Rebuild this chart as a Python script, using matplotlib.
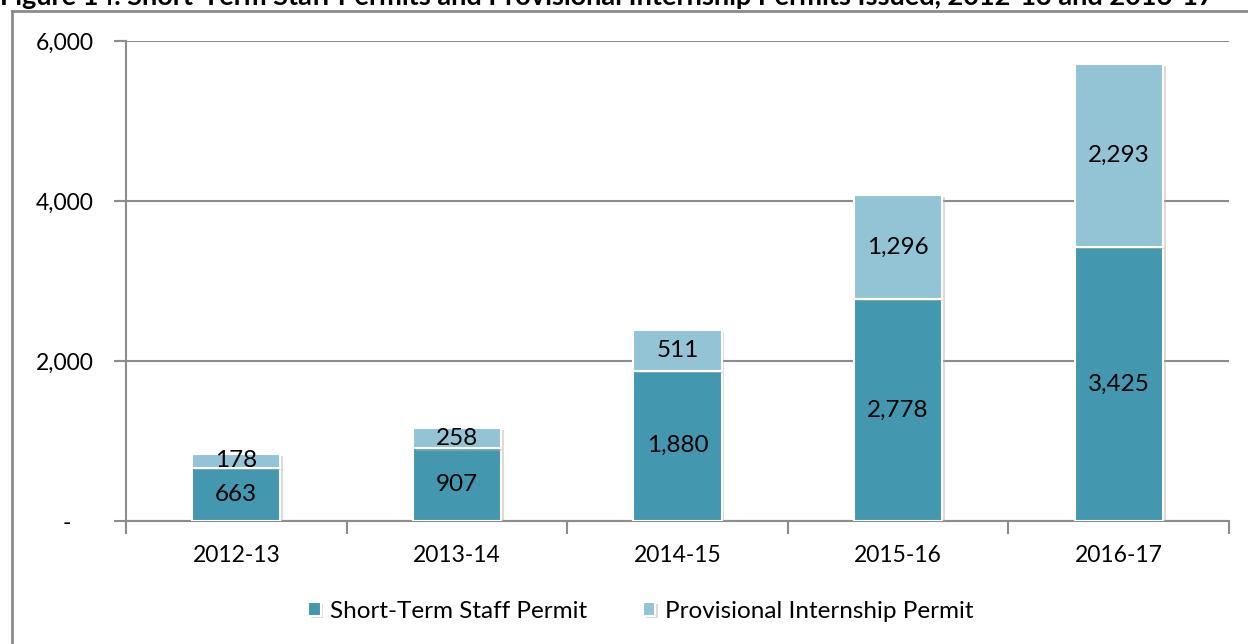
import matplotlib
matplotlib.use("Agg")
import matplotlib.pyplot as plt
import matplotlib.patheffects as pe
from matplotlib.lines import Line2D
import matplotlib.transforms as mtransforms
import numpy as np

plt.rcParams['font.family'] = ['Lato', 'DejaVu Sans']

title = "Figure 14. Short-Term Staff Permits and Provisional Internship Permits Issued, 2012-13 and 2016-17"
years = ["2012-13", "2013-14", "2014-15", "2015-16", "2016-17"]
short_term = [663, 907, 1880, 2778, 3425]
provisional = [178, 258, 511, 1296, 2293]
series_names = ["Short-Term Staff Permit", "Provisional Internship Permit"]
yticks = [0, 2000, 4000, 6000]

c_dark = "#4398b0"
c_light = "#93c4d6"
c_grid = "#8c8c8c"

W, H = 1248, 644
fig = plt.figure(figsize=(W / 100, H / 100), dpi=100)
ax = fig.add_axes([126 / W, 1 - 521 / H, (1229 - 126) / W, (521 - 41) / H])

x = np.arange(len(years))
shadow = [pe.SimplePatchShadow(offset=(2, -1.5), shadow_rgbFace="#b0b0b0", alpha=0.45), pe.Normal()]
b1 = ax.bar(x, short_term, width=0.4, color=c_dark, edgecolor="white", linewidth=1.5,
            label=series_names[0], zorder=3, path_effects=shadow)
b2 = ax.bar(x, provisional, width=0.4, bottom=short_term, color=c_light, edgecolor="white",
            linewidth=1.5, label=series_names[1], zorder=3, path_effects=shadow)

for i in range(len(years)):
    ax.text(x[i], short_term[i] / 2, f"{short_term[i]:,}", ha="center", va="center",
            fontsize=17.5, color="black", zorder=5)
    ax.text(x[i], short_term[i] + provisional[i] / 2, f"{provisional[i]:,}", ha="center",
            va="center", fontsize=17.5, color="black", zorder=5)

ax.set_xlim(-0.5, len(years) - 0.5)
ax.set_ylim(0, 6000)
ax.set_yticks(yticks)
ax.set_yticklabels(["-" if v == 0 else f"{v:,}" for v in yticks], fontsize=16.5)
ax.tick_params(axis="y", length=9, width=1.5, color=c_grid, pad=14)
# shift the "-" label left (accounting-format padding)
lab0 = ax.get_yticklabels()[0]
lab0.set_transform(lab0.get_transform() + mtransforms.ScaledTranslation(-23 / 100, 0, fig.dpi_scale_trans))

ax.set_xticks(x)
ax.set_xticklabels(years, fontsize=16.5)
ax.set_xticks(np.arange(-0.5, len(years)), minor=True)
ax.tick_params(axis="x", which="major", length=0, pad=17)
ax.tick_params(axis="x", which="minor", length=9, width=1.5, color=c_grid)

ax.grid(axis="y", color=c_grid, linewidth=1.5, zorder=0)
ax.set_axisbelow(True)
for s in ["top", "right"]:
    ax.spines[s].set_visible(False)
for s in ["left", "bottom"]:
    ax.spines[s].set_color(c_grid)
    ax.spines[s].set_linewidth(1.5)

# extend gridlines to the left like the tick marks
for v in yticks[1:]:
    ax.add_line(Line2D([-0.5 - 9 / 220.6, -0.5], [v, v], color=c_grid, linewidth=1.5, clip_on=False))

fig.legend(handles=[b1, b2], labels=series_names, loc="center", bbox_to_anchor=(641 / W, 1 - 611 / H),
           ncol=2, frameon=False, fontsize=17.5, handlelength=0.5, handleheight=0.5,
           handletextpad=0.4, columnspacing=2.3)

# outer frame
fig.add_artist(Line2D([11.5 / W, 11.5 / W], [0, 1 - 11 / H], color=c_grid, linewidth=2, transform=fig.transFigure))
fig.add_artist(Line2D([11.5 / W, 1], [1 - 11 / H, 1 - 11 / H], color=c_grid, linewidth=2, transform=fig.transFigure))

# title (top clipped by the figure edge, as in the reference)
t = fig.text(0, 1 - 5 / H, title, ha="left", va="baseline", fontsize=18, fontweight="bold", color="black")
fig.canvas.draw()
bb = t.get_window_extent()
t.set_fontsize(18 * 1216 / bb.width)

fig.savefig("out.png", dpi=100)
